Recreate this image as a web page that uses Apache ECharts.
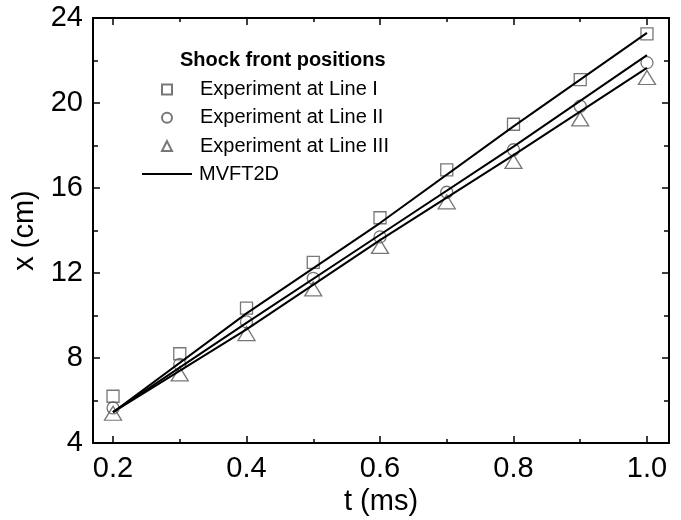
<!DOCTYPE html>
<html><head><meta charset="utf-8">
<script src="https://cdn.jsdelivr.net/npm/echarts@6/dist/echarts.min.js"></script>
<style>html,body{margin:0;padding:0;background:#fff}#c{width:681px;height:520px}</style>
</head><body><div id="c"></div>
<script>
const tValues = [0.2, 0.3, 0.4, 0.5, 0.6, 0.7, 0.8, 0.9, 1.0];
const lineI = [6.2, 8.2, 10.35, 12.5, 14.6, 16.85, 19.0, 21.1, 23.25];
const lineII = [5.65, 7.7, 9.7, 11.75, 13.7, 15.8, 17.8, 19.85, 21.9];
const lineIII = [5.4, 7.25, 9.15, 11.25, 13.25, 15.35, 17.25, 19.25, 21.2];
const mvftT = [0.2, 0.4, 0.6, 0.8, 1.0];
const mvftI = [5.45, 10.1, 14.35, 18.9, 23.3];
const mvftII = [5.45, 9.65, 13.8, 17.95, 22.25];
const mvftIII = [5.45, 9.35, 13.55, 17.55, 21.65];
const xMajorTicks = [0.2, 0.4, 0.6, 0.8, 1.0];
const xMinorTicks = [0.3, 0.5, 0.7, 0.9];
const seriesNames = ['Experiment at Line I', 'Experiment at Line II', 'Experiment at Line III', 'MVFT2D'];
const legendTitle = 'Shock front positions';

const FONT = "'Liberation Sans', Arial, sans-serif";
const pairs = (xs, ys) => xs.map((x, i) => [x, ys[i]]);
const markerStyle = { color: 'rgba(0,0,0,0)', borderColor: '#555', borderWidth: 1.3 };
const XMIN = 0.17, XMAX = 1.033;

function xAx(pos, ticks, len, labels, line) {
  return {
    type: 'value', position: pos, min: XMIN, max: XMAX,
    splitLine: { show: false },
    axisLine: { show: line, onZero: false, lineStyle: { color: '#000', width: 2 } },
    axisTick: { show: true, inside: true, length: len, customValues: ticks, lineStyle: { color: '#000', width: 1.5 } },
    axisLabel: labels ? { show: true, customValues: ticks, formatter: v => v.toFixed(1), fontSize: 29, color: '#000', fontFamily: FONT, margin: 11 } : { show: false },
    name: labels ? 't (ms)' : '', nameLocation: 'middle', nameGap: 38,
    nameTextStyle: { fontSize: 29, color: '#000', fontFamily: FONT }
  };
}
function yAx(pos, labels) {
  return {
    type: 'value', position: pos, min: 4, max: 24, interval: 4,
    splitLine: { show: false },
    axisLine: { show: true, onZero: false, lineStyle: { color: '#000', width: 2 } },
    axisTick: { show: true, inside: true, length: 7, lineStyle: { color: '#000', width: 1.5 } },
    minorTick: { show: true, splitNumber: 2, length: 5, lineStyle: { color: '#000', width: 1.5 } },
    minorSplitLine: { show: false },
    axisLabel: labels ? { show: true, fontSize: 29, color: '#000', fontFamily: FONT, margin: 10 } : { show: false },
    name: labels ? 'x (cm)' : '', nameLocation: 'middle', nameGap: 46, nameRotate: 90,
    nameTextStyle: { fontSize: 29, color: '#000', fontFamily: FONT }
  };
}

const chart = echarts.init(document.getElementById('c'), null, { renderer: 'canvas' });
chart.setOption({
  animation: false,
  backgroundColor: '#fff',
  grid: { left: 93, right: 12, top: 18, bottom: 77, containLabel: false, outerBoundsMode: 'none' },
  title: { text: legendTitle, left: 180, top: 50, padding: 0,
    textStyle: { fontSize: 20, fontWeight: 'bold', color: '#000', fontFamily: FONT } },
  legend: [
    {
      orient: 'vertical', left: 161, top: 79.5, padding: 0, itemGap: 8.3,
      itemWidth: 10, itemHeight: 10,
      data: seriesNames.slice(0, 3),
      textStyle: { fontSize: 20, lineHeight: 20, color: '#000', fontFamily: FONT, padding: [0, 0, 0, 23] }
    },
    {
      orient: 'vertical', left: 142, top: 164, padding: 0,
      itemWidth: 50, itemHeight: 2,
      data: [{ name: seriesNames[3], icon: 'rect' }],
      textStyle: { fontSize: 20, lineHeight: 20, color: '#000', fontFamily: FONT, padding: [0, 0, 0, 2] }
    }
  ],
  xAxis: [
    xAx('bottom', xMajorTicks, 7, true, true),
    xAx('bottom', xMinorTicks, 4, false, false),
    xAx('top', xMajorTicks, 7, false, true),
    xAx('top', xMinorTicks, 4, false, false)
  ],
  yAxis: [yAx('left', true), yAx('right', false)],
  series: [
    { name: seriesNames[0], type: 'scatter', symbol: 'rect', symbolSize: 12, itemStyle: markerStyle, data: pairs(tValues, lineI) },
    { name: seriesNames[1], type: 'scatter', symbol: 'circle', symbolSize: 12, itemStyle: markerStyle, data: pairs(tValues, lineII) },
    { name: seriesNames[2], type: 'scatter', symbol: 'triangle', symbolSize: [17, 14], itemStyle: markerStyle, data: pairs(tValues, lineIII) },
    { name: seriesNames[3], type: 'line', symbol: 'none', lineStyle: { color: '#000', width: 2 }, itemStyle: { color: '#000' }, data: pairs(mvftT, mvftI), z: 5 },
    { name: seriesNames[3], type: 'line', symbol: 'none', lineStyle: { color: '#000', width: 2 }, itemStyle: { color: '#000' }, data: pairs(mvftT, mvftII), z: 5 },
    { name: seriesNames[3], type: 'line', symbol: 'none', lineStyle: { color: '#000', width: 2 }, itemStyle: { color: '#000' }, data: pairs(mvftT, mvftIII), z: 5 }
  ]
});
</script></body></html>
